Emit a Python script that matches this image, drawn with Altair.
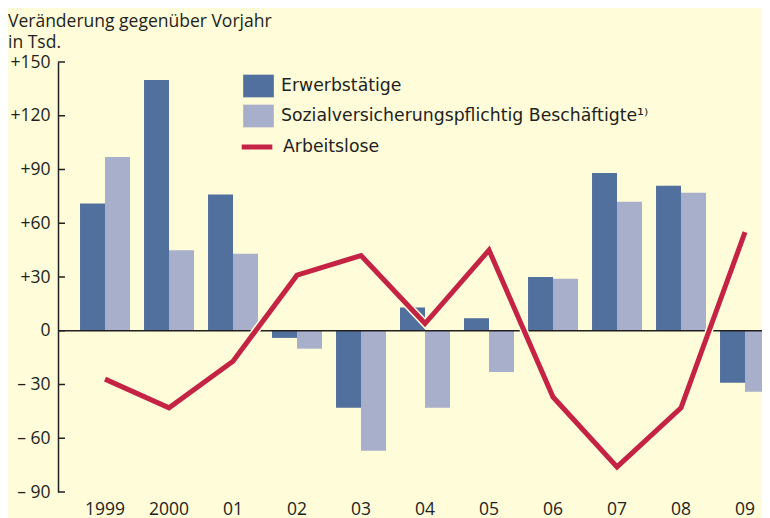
import altair as alt
import pandas as pd

years = ["1999", "2000", "01", "02", "03", "04", "05", "06", "07", "08", "09"]
erwerb = [71, 140, 76, -4, -43, 13, 7, 30, 88, 81, -29]
sozial = [97, 45, 43, -10, -67, -43, -23, 29, 72, 77, -34]
arbeitslose = [-27, -43, -17, 31, 42, 4, 45, -37, -76, -43, 55]
bar_series = ["Erwerbstätige", "Sozialversicherungspflichtig Beschäftigte¹⁾"]
line_series = ["Arbeitslose"]
y_ticks = [-90, -60, -30, 0, 30, 60, 90, 120, 150]
title_lines = ["Veränderung gegenüber Vorjahr", "in Tsd."]

BG = "#FFFCD9"
DARK = "#52709E"
LIGHT = "#A8AFCB"
RED = "#C42344"
TXT = "#231F20"
FONT = "Open Sans"
LFONT = "DejaVu Sans"
FS = 17.5
LFS = 17.3

bar_df = pd.DataFrame({
    "year": years * 2,
    "series": [bar_series[0]] * len(years) + [bar_series[1]] * len(years),
    "value": erwerb + sozial,
})
line_df = pd.DataFrame({"year": years, "series": line_series * len(years), "value": arbeitslose})
tick_df = pd.DataFrame({"tick": y_ticks})
zero_df = pd.DataFrame({"zero": [0]})

x_scale = alt.Scale(domain=years, range=[0, 712], paddingInner=0.219, paddingOuter=0.172, align=1)
y_scale = alt.Scale(domain=[-90, 150], nice=False, zero=False)

x_enc = alt.X("year:N", sort=years, scale=x_scale,
              axis=alt.Axis(title=None, labelAngle=0, domain=False, ticks=False,
                            labelPadding=8, labelFontSize=FS, labelColor=TXT, labelFont=FONT))
y_enc = alt.Y("value:Q", scale=y_scale,
              axis=alt.Axis(title=None, values=y_ticks, grid=False, ticks=False, tickSize=0,
                            domainColor=TXT, domainWidth=1.5, labelPadding=8,
                            labelFontSize=FS, labelColor=TXT, labelFont=FONT,
                            labelExpr="datum.value > 0 ? '+' + datum.value : (datum.value < 0 ? '\u2013 ' + abs(datum.value) : '0')"))

rect_path = "M-1,-0.74H1V0.74H-1Z"

bars = alt.Chart(bar_df).mark_bar().encode(
    x=x_enc,
    y=y_enc,
    xOffset=alt.XOffset("series:N", sort=bar_series,
                        scale=alt.Scale(domain=bar_series, paddingInner=0, paddingOuter=0)),
    color=alt.Color("series:N", sort=bar_series,
                    scale=alt.Scale(domain=bar_series, range=[DARK, LIGHT]),
                    legend=alt.Legend(title=None, orient="none", legendX=185, legendY=8.5,
                                      symbolType=rect_path, symbolSize=940, symbolStrokeWidth=0,
                                      symbolOpacity=1, labelOffset=7, rowPadding=3, padding=0,
                                      labelFontSize=LFS, labelColor=TXT, labelFont=LFONT,
                                      labelLimit=600)),
)

zero = alt.Chart(zero_df).mark_rule(color=TXT, strokeWidth=1.5).encode(
    y=alt.Y("zero:Q", scale=y_scale),
)

halo = alt.Chart(line_df).mark_line(color=BG, strokeWidth=8).encode(
    x=alt.X("year:N", sort=years, scale=x_scale),
    y=alt.Y("value:Q", scale=y_scale),
)

line = alt.Chart(line_df).mark_line(strokeWidth=5).encode(
    x=alt.X("year:N", sort=years, scale=x_scale),
    y=alt.Y("value:Q", scale=y_scale),
    stroke=alt.Stroke("series:N", scale=alt.Scale(domain=line_series, range=[RED]),
                      legend=alt.Legend(title=None, orient="none", legendX=181, legendY=67,
                                        symbolType="stroke", symbolSize=940, symbolStrokeWidth=5,
                                        labelOffset=8, padding=0,
                                        labelFontSize=LFS, labelColor=TXT, labelFont=LFONT)),
)

ticks = alt.Chart(tick_df).mark_rule(color=TXT, strokeWidth=1.5).encode(
    y=alt.Y("tick:Q", scale=y_scale),
    x=alt.value(0),
    x2=alt.value(7),
)

chart = alt.layer(bars, zero, halo, line, ticks).resolve_scale(color="independent").properties(
    width=704,
    height=430,
    autosize=alt.AutoSizeParams(type="none"),
    padding={"left": 50, "top": 54, "right": 0, "bottom": 26},
    background=BG,
    title=alt.TitleParams(text=title_lines, anchor="start", frame="group", dx=-50, offset=2,
                          fontSize=FS, fontWeight="normal", font=FONT, color=TXT, lineHeight=21),
).configure_view(stroke=None)

chart.save("out.html", embed_options={"renderer": "svg", "actions": False})
